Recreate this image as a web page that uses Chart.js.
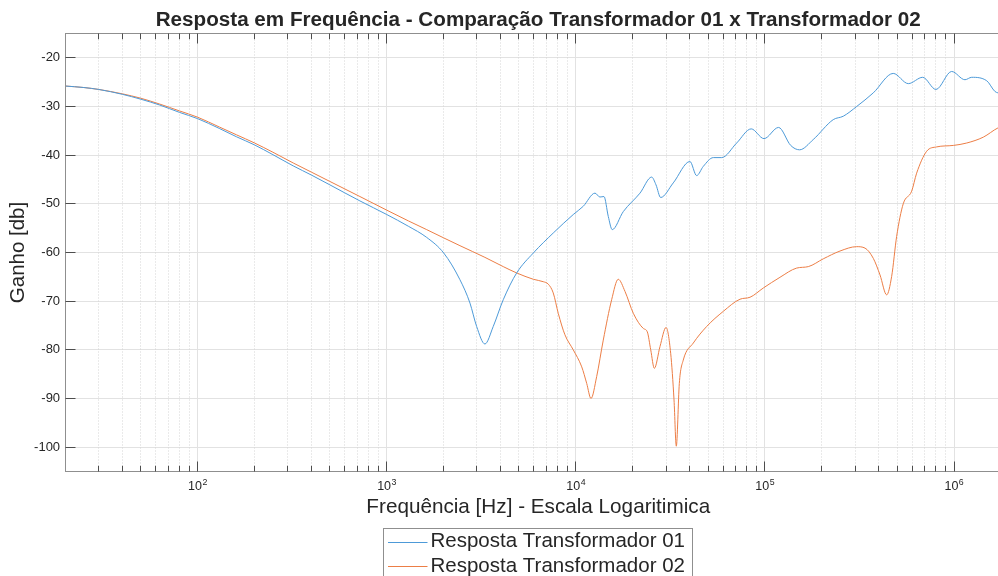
<!DOCTYPE html>
<html><head><meta charset="utf-8">
<script src="https://cdn.jsdelivr.net/npm/chart.js@4.4.1/dist/chart.umd.min.js"></script>
<style>html,body{margin:0;padding:0;background:#fff;overflow:hidden;}#wrap{width:1030px;height:600px;}</style>
</head><body><div id="wrap"><canvas id="c" width="1030" height="600"></canvas></div>
<script>
const titleText = 'Resposta em Frequência - Comparação Transformador 01 x Transformador 02';
const xTitle = 'Frequência [Hz] - Escala Logaritimica';
const yTitle = 'Ganho [db]';
const seriesNames = ['Resposta Transformador 01', 'Resposta Transformador 02'];
const xTickValues = [100, 1000, 10000, 100000, 1000000];
const xTickExponents = ['2', '3', '4', '5', '6'];
const yTickValues = [-100, -90, -80, -70, -60, -50, -40, -30, -20];

const freq01 = [20,25,30,40,50,63,80,100,130,160,200,250,320,400,500,721,1000,1300,1626,2000,2438,2754,2987,3304,3656,4130,4864,5957,7590,9686,10940,12620,13400,14080,14840,15570,17810,21830,25160,26530,28080,32730,40100,43520,47190,53320,59030,70840,84560,98810,118000,136800,152400,179900,229600,259400,305400,374000,476700,572800,682300,801700,970700,1142000,1239000,1487000,1644000,1706000,2000000];
const gain01 = [-25.8,-26.1,-26.5,-27.5,-28.5,-29.7,-31.2,-32.5,-34.5,-36.2,-37.9,-39.9,-42.2,-44.1,-46.1,-49.4,-52.2,-54.6,-56.9,-60.1,-65.6,-70.4,-75.2,-78.8,-75.2,-69.7,-64.2,-60.1,-56.0,-52.2,-50.5,-47.8,-48.6,-48.5,-52.6,-55.3,-51.6,-47.8,-44.5,-46.1,-48.7,-45.7,-41.3,-44.2,-42.3,-40.5,-40.5,-37.5,-34.6,-36.6,-34.3,-38.0,-38.9,-36.8,-32.7,-32.0,-30.0,-27.2,-23.2,-25.3,-24.0,-26.5,-22.8,-24.5,-24.0,-24.7,-26.9,-27.2,-27.6];

const freq02 = [20,25,30,40,50,63,80,100,130,160,200,250,320,400,500,721,1000,1300,1626,2000,2438,3304,4130,4864,5957,6724,7145,7590,8070,8750,9686,10740,11410,12020,12880,13960,15460,16750,18190,20130,22720,23860,24880,26000,27860,29980,31720,33040,33970,35240,36980,41780,49170,60170,73760,83310,97950,120000,147100,169500,203400,249300,305400,338100,374000,405700,440200,467700,496900,538400,596600,633900,716100,809000,990800,1167000,1427000,1706000,2000000];
const gain02 = [-25.8,-26.1,-26.5,-27.4,-28.3,-29.5,-30.9,-32.2,-34.2,-35.8,-37.5,-39.4,-41.6,-43.5,-45.4,-48.5,-51.3,-53.5,-55.3,-57.0,-58.6,-61.0,-62.9,-64.2,-65.5,-66.0,-66.5,-68.3,-72.5,-76.9,-80.0,-83.5,-86.9,-90.0,-85.5,-78.0,-69.7,-65.5,-68.0,-72.5,-75.6,-76.3,-80.0,-83.8,-79.3,-75.4,-80.7,-90.3,-99.8,-86.9,-82.1,-78.6,-75.2,-72.1,-69.6,-69.2,-67.3,-65.1,-63.2,-62.9,-61.3,-59.7,-58.8,-59.1,-61.2,-64.6,-68.7,-64.9,-56.7,-50.0,-47.4,-43.7,-39.2,-38.3,-38.0,-37.5,-36.3,-34.4,-33.5];

const seriesColors = ['#4d9ad8', '#ec7e46'];
const FONT = "'Liberation Sans', Arial, Helvetica, sans-serif";
const TXT = '#262626';

const toXY = (fs, gs) => fs.map((f, i) => ({x: f, y: gs[i]}));

const matlabAxes = {
  id: 'matlabAxes',
  beforeDatasetsDraw(chart) {
    const {ctx, chartArea: a, scales: {x}} = chart;
    ctx.save();
    ctx.strokeStyle = '#d4d4d4';
    ctx.lineWidth = 1;
    ctx.setLineDash([1, 2]);
    for (let e = 1; e <= 6; e++) for (let k = 2; k <= 9; k++) {
      const v = k * Math.pow(10, e);
      if (v <= x.min || v >= x.max) continue;
      const px = Math.floor(x.getPixelForValue(v)) + 0.5;
      ctx.beginPath(); ctx.moveTo(px, a.top); ctx.lineTo(px, a.bottom); ctx.stroke();
    }
    ctx.restore();
  },
  afterDraw(chart) {
    const {ctx, chartArea: a, scales: {x, y}} = chart;
    const L = Math.floor(a.left) + 0.5, T = Math.floor(a.top) + 0.5;
    const B = Math.floor(a.bottom) + 0.5, R = Math.floor(a.right) + 0.5;
    ctx.save();
    ctx.strokeStyle = '#8f8f8f'; ctx.lineWidth = 1;
    ctx.strokeRect(L, T, R - L, B - T);
    ctx.strokeStyle = '#4d4d4d';
    const vline = (px, y0, y1) => { ctx.beginPath(); ctx.moveTo(px, y0); ctx.lineTo(px, y1); ctx.stroke(); };
    const hline = (py, x0, x1) => { ctx.beginPath(); ctx.moveTo(x0, py); ctx.lineTo(x1, py); ctx.stroke(); };
    for (let e = 1; e <= 6; e++) for (let k = 1; k <= 9; k++) {
      const v = k * Math.pow(10, e);
      if (v <= x.min || v >= x.max) continue;
      const len = k === 1 ? 10 : 5.7;
      const px = Math.floor(x.getPixelForValue(v)) + 0.5;
      vline(px, B, B - len); vline(px, T, T + len);
    }
    yTickValues.forEach(v => {
      const py = Math.floor(y.getPixelForValue(v)) + 0.5;
      hline(py, L, L + 10); hline(py, R, R - 10);
    });
    ctx.fillStyle = TXT;
    ctx.textBaseline = 'alphabetic';
    ctx.textAlign = 'left';
    xTickValues.forEach((v, i) => {
      const px = x.getPixelForValue(v);
      ctx.font = '12.5px ' + FONT;
      const w1 = ctx.measureText('10').width;
      ctx.font = '8.8px ' + FONT;
      const w2 = ctx.measureText(xTickExponents[i]).width;
      const x0 = px - (w1 + w2 + 0.5) / 2;
      ctx.font = '12.5px ' + FONT;
      ctx.fillText('10', x0, a.bottom + 18.5);
      ctx.font = '8.8px ' + FONT;
      ctx.fillText(xTickExponents[i], x0 + w1 + 0.5, a.bottom + 13.8);
    });
    const cx = (a.left + a.right) / 2;
    const lw = 309, lx = Math.floor(cx - lw / 2) + 0.5, ly = Math.floor(a.bottom + 56.8) + 0.5;
    ctx.fillStyle = '#ffffff';
    ctx.fillRect(lx, ly, lw, 54);
    ctx.strokeStyle = '#8f8f8f';
    ctx.strokeRect(lx, ly, lw, 54);
    ctx.font = '20.5px ' + FONT;
    ctx.textBaseline = 'middle';
    chart.data.datasets.forEach((ds, i) => {
      const ry = a.bottom + 70.2 + i * 24.3;
      ctx.strokeStyle = ds.borderColor; ctx.lineWidth = 1;
      hline(Math.round(ry) + 0.5, lx + 4.5, lx + 44);
      ctx.fillStyle = TXT;
      ctx.fillText(ds.label, lx + 47, ry);
    });
    ctx.restore();
  }
};

new Chart(document.getElementById('c'), {
  type: 'line',
  data: {
    datasets: [
      {label: seriesNames[0], data: toXY(freq01, gain01), borderColor: seriesColors[0], borderWidth: 1, pointRadius: 0, fill: false, cubicInterpolationMode: 'monotone'},
      {label: seriesNames[1], data: toXY(freq02, gain02), borderColor: seriesColors[1], borderWidth: 1, pointRadius: 0, fill: false, cubicInterpolationMode: 'monotone'}
    ]
  },
  options: {
    responsive: false,
    animation: false,
    devicePixelRatio: 1,
    layout: {padding: {left: 0, right: 19, top: 0, bottom: 76.5}},
    plugins: {
      legend: {display: false},
      tooltip: {enabled: false},
      title: {display: true, text: titleText, fullSize: false, color: TXT,
        font: {family: FONT, size: 20.65, weight: 'bold', lineHeight: 1},
        padding: {top: 9.5, bottom: 3.35}}
    },
    scales: {
      x: {
        type: 'logarithmic', position: 'bottom', min: 20, max: 2000000,
        afterBuildTicks: s => { s.ticks = xTickValues.map(v => ({value: v})); },
        afterFit: s => { s.height = 52; },
        ticks: {display: false},
        grid: {color: '#e2e2e2', drawTicks: false},
        border: {display: false},
        title: {display: true, text: xTitle, color: TXT, font: {family: FONT, size: 20.7}, padding: {top: 0, bottom: 3.4}}
      },
      y: {
        type: 'linear', min: -105, max: -15,
        afterBuildTicks: s => { s.ticks = yTickValues.map(v => ({value: v})); },
        afterFit: s => { s.width = 65.5; },
        ticks: {color: TXT, font: {family: FONT, size: 13}, padding: 5.4, callback: v => String(v)},
        grid: {color: '#e2e2e2', drawTicks: false},
        border: {display: false},
        title: {display: true, text: yTitle, color: TXT, font: {family: FONT, size: 20.5}, padding: {top: 6.2, bottom: 0}}
      }
    }
  },
  plugins: [matlabAxes]
});
</script>
</body></html>
